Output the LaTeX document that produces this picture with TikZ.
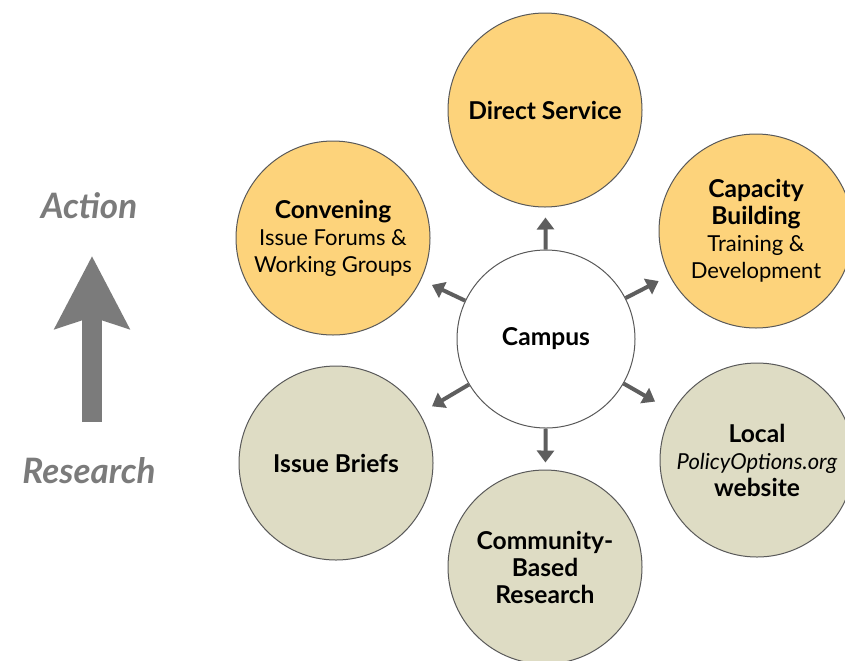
\documentclass[tikz,border=0pt]{standalone}
\usepackage{fontspec}
\setmainfont{Lato}
\usetikzlibrary{arrows.meta, positioning}
\definecolor{actfill}{HTML}{FDD37B}
\definecolor{resfill}{HTML}{DEDCC4}
\definecolor{spoke}{HTML}{5E5E5E}
\definecolor{axisgray}{HTML}{7B7B7B}
\newcommand\hd[1]{{\fontsize{12.3}{13.5}\selectfont\bfseries #1}}

\begin{document}
\begin{tikzpicture}[x=0.5pt, y=-0.5pt,% one unit = one pixel of the layout
         > = {Triangle[length=6pt, width=8.5pt]}, % defined in "arrows.meta"
bubble/.style = {circle, draw=black!65, line width=0.5pt,
                 minimum size=97pt, inner sep=0pt, align=center,
                 font=\fontsize{11}{13.5}\selectfont},
act/.style    = {bubble, fill=actfill},
res/.style    = {bubble, fill=resfill},
spoke/.style  = {->, draw=spoke, line width=2pt},
axislabel/.style = {text=axisgray, font=\fontsize{17.5}{20}\selectfont\bfseries\itshape}
                    ]
	\useasboundingbox (0,0) rectangle (845,660);

	% centre
	\node[bubble, fill=white, minimum size=89pt] (campus) at (546,339) {\hd{Campus}};

	% action side
	\node[act] (direct)    at (545,110) {\hd{Direct Service}};
	\node[act] (convening) at (333,238) {\hd{Convening}\\Issue Forums \&\\Working Groups};
	\node[act] (capacity)  at (756,231) {\hd{Capacity}\\\hd{Building}\\Training \&\\Development};

	% research side
	\node[res] (briefs)    at (336,463) {\hd{Issue Briefs}};
	\node[res] (community) at (545,567) {\hd{Community-}\\\hd{Based}\\\hd{Research}};
	\node[res] (local)     at (757,460) {\hd{Local}\\\textit{PolicyOptions.org}\\\hd{website}};

	% spokes
	\foreach \n/\s in {direct/5pt, convening/6pt, capacity/6pt,
	                   briefs/7pt, local/10pt, community/3.5pt}
		\draw[spoke, shorten >=\s] (campus) -- (\n);

	% research -> action axis
	\node[axislabel] (action)   at (89,206) {Action};
	\node[axislabel] (research) at (89,471) {Research};
	\coordinate (low)  at (92,422);
	\coordinate (high) at (92,256);
	\draw[axisgray, line width=10pt,
	      -{Stealth[length=36pt, width=36.5pt, inset=5.5pt]}] (low) -- (high);
\end{tikzpicture}
\end{document}
